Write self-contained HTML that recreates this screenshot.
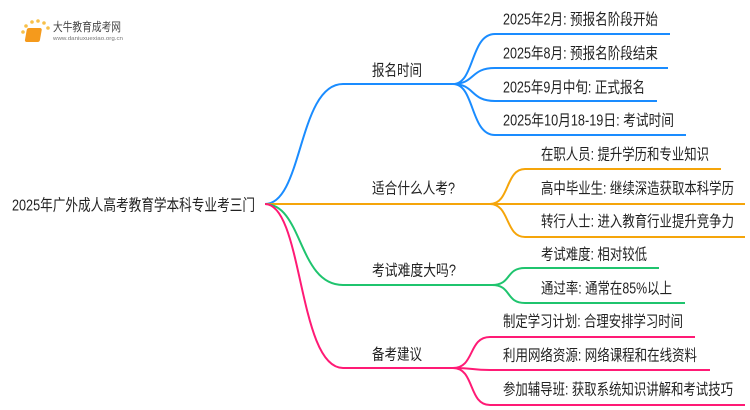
<!DOCTYPE html>
<html><head><meta charset="utf-8"><style>
body{margin:0;background:#fff;}
svg{display:block}
text{font-family:"Liberation Sans","Noto Sans CJK SC",sans-serif;font-size:15.5px;fill:#222;dominant-baseline:central}
</style></head><body>
<svg width="750" height="410" viewBox="0 0 750 410" xmlns="http://www.w3.org/2000/svg">
<g fill="none" stroke-width="2">
<path d="M265,204 C303,204 298,84 343,84 L453,84" stroke="#1a8cff"/>
<path d="M453,84 C475,84 470,34 495,34 L670,34 M453,84 C475,84 470,68 495,68 L668,68 M453,84 C475,84 470,101 495,101 L657,101 M453,84 C475,84 470,135 495,135 L686,135" stroke="#1a8cff"/>
<path d="M265,204 L490,204" stroke="#f5a50a"/>
<path d="M490,204 C510,204 505,169 525,169 L721,169 M490,204 L745,204 M490,204 C510,204 505,237 525,237 L745,237" stroke="#f5a50a"/>
<path d="M265,204 C303,204 298,285 343,285 L492,285" stroke="#1fc46e"/>
<path d="M492,285 C512,285 505,268 525,268 L659,268 M492,285 C512,285 505,303 525,303 L685,303" stroke="#1fc46e"/>
<path d="M265,204 C303,204 298,368 343,368 L453,368" stroke="#ff1a75"/>
<path d="M453,368 C475,368 468,337 490,337 L695,337 M453,368 C475,368 470,370 490,370 L710,370 M453,368 C475,368 468,405 490,405 L745,405" stroke="#ff1a75"/>
</g>
<g>
<text x="12" y="206" textLength="243" lengthAdjust="spacingAndGlyphs" style="font-size:16px">2025年广外成人高考教育学本科专业考三门</text>
<text x="372" y="71" textLength="50" lengthAdjust="spacingAndGlyphs">报名时间</text>
<text x="372" y="189" textLength="83" lengthAdjust="spacingAndGlyphs">适合什么人考?</text>
<text x="372" y="271" textLength="84" lengthAdjust="spacingAndGlyphs">考试难度大吗?</text>
<text x="372" y="355" textLength="50" lengthAdjust="spacingAndGlyphs">备考建议</text>
<text x="503" y="20" textLength="155" lengthAdjust="spacingAndGlyphs">2025年2月: 预报名阶段开始</text>
<text x="503" y="54" textLength="155" lengthAdjust="spacingAndGlyphs">2025年8月: 预报名阶段结束</text>
<text x="503" y="88" textLength="142" lengthAdjust="spacingAndGlyphs">2025年9月中旬: 正式报名</text>
<text x="503" y="121" textLength="171" lengthAdjust="spacingAndGlyphs">2025年10月18-19日: 考试时间</text>
<text x="541" y="155" textLength="168" lengthAdjust="spacingAndGlyphs">在职人员: 提升学历和专业知识</text>
<text x="541" y="189" textLength="193" lengthAdjust="spacingAndGlyphs">高中毕业生: 继续深造获取本科学历</text>
<text x="541" y="222" textLength="193" lengthAdjust="spacingAndGlyphs">转行人士: 进入教育行业提升竞争力</text>
<text x="541" y="255" textLength="106" lengthAdjust="spacingAndGlyphs">考试难度: 相对较低</text>
<text x="541" y="289" textLength="131" lengthAdjust="spacingAndGlyphs">通过率: 通常在85%以上</text>
<text x="503" y="322" textLength="180" lengthAdjust="spacingAndGlyphs">制定学习计划: 合理安排学习时间</text>
<text x="503" y="356" textLength="194" lengthAdjust="spacingAndGlyphs">利用网络资源: 网络课程和在线资料</text>
<text x="503" y="390" textLength="230" lengthAdjust="spacingAndGlyphs">参加辅导班: 获取系统知识讲解和考试技巧</text>
</g>
<g>
<circle cx="23" cy="32" r="1.8" fill="#f7c04a"/><circle cx="26" cy="26" r="1.8" fill="#f7c04a"/><circle cx="32" cy="22" r="1.8" fill="#f7c04a"/><circle cx="38" cy="21" r="1.8" fill="#f7c04a"/><circle cx="44" cy="23" r="1.8" fill="#f7c04a"/><circle cx="48" cy="28" r="1.8" fill="#f7c04a"/>
<rect x="32" y="28" width="15" height="14" rx="2" fill="#f59a1c" transform="skewX(-10)"/>
<text x="53" y="27" textLength="68" lengthAdjust="spacingAndGlyphs" style="font-size:12px;fill:#444">大牛教育成考网</text>
<text x="53" y="39" textLength="70" lengthAdjust="spacingAndGlyphs" style="font-size:5.5px;fill:#777">www.daniuxuexiao.org.cn</text>
</g>
</svg>
</body></html>
